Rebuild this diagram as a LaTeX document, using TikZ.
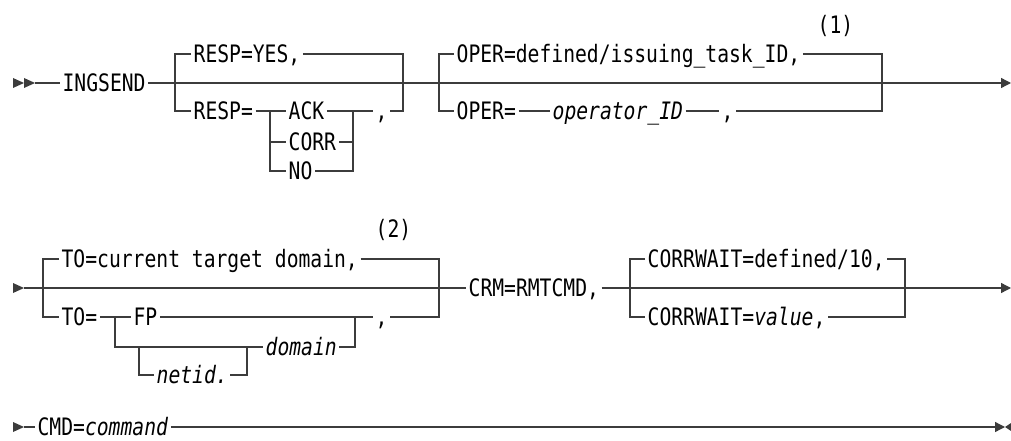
\documentclass[tikz,border=0pt]{standalone}
\usepackage{fontspec}
\setmonofont[FakeStretch=0.82]{DejaVu Sans Mono}
\usetikzlibrary{arrows.meta}
\definecolor{rail}{HTML}{3C3C3C}

\begin{document}
\begin{tikzpicture}[x=1pt,y=-1pt,font=\ttfamily\fontsize{24}{28}\selectfont,color=rail,line width=1.3pt,
 tok/.style={anchor=west,inner xsep=2pt,inner ysep=0pt,text height=17.5pt,text depth=0pt,text=black},
 run/.style={-{Triangle[length=10pt,width=10pt]}}]
 \useasboundingbox(0,0)rectangle(1011,441);
 % first line
 \fill(13,78)--(24,83)--(13,88)--cycle (24,78)--(35,83)--(24,88)--cycle;
 \coordinate(start1)at(35,83); \coordinate(end1)at(1011,83);
 \node[tok](ingsend)at(60,83){INGSEND};
 \draw(start1)--(ingsend.west);
 \draw[run](ingsend.east)--(end1);
 \node[tok](respyes)at(191,54){RESP=YES,};
 \node[tok](resp)at(191,111){RESP=};
 \foreach \nm/\y in {ACK/111,CORR/142,NO/171}{
  \node[tok](\nm)at(286,\y){\nm};}
 \node[tok](commaA)at(373,111){,};
 \draw(respyes.west)-|(175,111)--(resp.west);
 \draw(respyes.east)-|(403,111)--(commaA.east);
 \draw(resp.east)--(ACK.west)(ACK.east)--(commaA.west);
 \draw(NO.west)-|(270,111)(270,142)--(CORR.west);
 \draw(NO.east)-|(353,111)(353,142)--(CORR.east);
 \node[tok](operdef)at(454,54){OPER=defined/issuing\_task\_ID,};
 \node[tok](noteA)at(815,25){(1)};
 \node[tok](oper)at(454,111){OPER=};
 \node[tok](opid)at(550,111){\itshape operator\_ID};
 \node[tok](commaB)at(719,111){,};
 \draw(operdef.west)-|(439,111)--(oper.west);
 \draw(operdef.east)-|(882,111)--(commaB.east);
 \draw(oper.east)--(opid.west)(opid.east)--(commaB.west);
 % second line
 \fill(13,283)--(24,288)--(13,293)--cycle;
 \coordinate(start2)at(24,288); \coordinate(end2)at(1011,288);
 \node[tok](todef)at(59,259){TO=current target domain,};
 \node[tok](noteB)at(373,229){(2)};
 \node[tok](toeq)at(59,317){TO=};
 \node[tok](FP)at(131,317){FP};
 \node[tok](commaC)at(373,317){,};
 \node[tok](domain)at(263,347){\itshape domain};
 \node[tok](netid)at(154,375){\itshape netid.};
 \node[tok](crm)at(466,288){CRM=RMTCMD,};
 \node[tok](cwdef)at(645,259){CORRWAIT=defined/10,};
 \node[tok](cwval)at(645,317){CORRWAIT=\textit{value},};
 \draw(start2)--(crm.west);
 \draw[run](crm.east)--(end2);
 \draw(todef.west)-|(43,317)--(toeq.west);
 \draw(todef.east)-|(439,317)--(commaC.east);
 \draw(toeq.east)--(FP.west)(FP.east)--(commaC.west);
 \draw(115,317)|-(domain.west);
 \draw(domain.east)-|(355,317);
 \draw(139,347)|-(netid.west);
 \draw(netid.east)-|(247,347);
 \draw(cwdef.west)-|(630,317)--(cwval.west);
 \draw(cwdef.east)-|(905,317)--(cwval.east);
 % third line
 \fill(13,422)--(24,427)--(13,432)--cycle;
 \coordinate(start3)at(24,427); \coordinate(end3)at(1005,427);
 \node[tok](cmd)at(35,427){CMD=\textit{command}};
 \draw(start3)--(cmd.west);
 \draw[run](cmd.east)--(end3);
 \fill(1011,423)--(1005,427)--(1011,431)--cycle;
\end{tikzpicture}
\end{document}
